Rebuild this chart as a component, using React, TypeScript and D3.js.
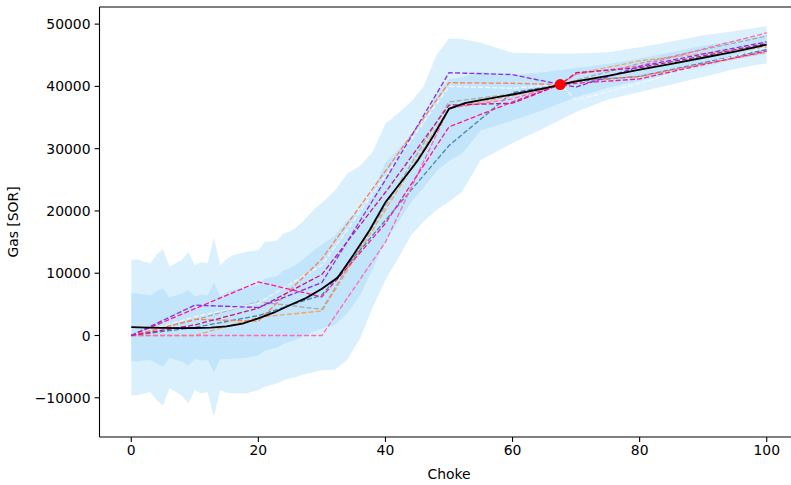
import * as d3 from 'd3';

const bandX = [0, 1, 2, 3, 4, 5, 6, 7, 8, 9, 10, 11, 12, 13, 14, 15, 16, 18, 20, 21, 22, 23, 24, 25, 26, 27, 28, 29, 30, 32, 34, 36, 38, 40, 42, 44, 46, 48, 50, 52, 55, 60, 65, 70, 75, 80, 85, 90, 95, 100];
const bandMid = [1310, 1310, 1300, 1250, 1300, 1300, 1270, 1275, 1250, 1250, 1245, 1250, 1270, 1315, 1250, 1550, 1810, 2050, 2450, 3375, 3575, 3820, 4600, 4900, 5375, 6000, 6670, 7350, 7865, 8850, 11050, 13350, 17000, 21450, 24050, 26750, 29150, 32550, 34600, 35300, 37600, 38150, 39300, 40600, 41700, 42700, 43750, 44850, 45850, 46700];
const bandStd = [5445, 5445, 5300, 5155, 5850, 6300, 4875, 5160, 5475, 6075, 5020, 5275, 5165, 7190, 5025, 5375, 5545, 5675, 5625, 5810, 5760, 5740, 5900, 5900, 6010, 6150, 6365, 6575, 6718, 7175, 7475, 6925, 6250, 6275, 5825, 5375, 5425, 6225, 6550, 6150, 4700, 3625, 3000, 2350, 1900, 1800, 1725, 1675, 1525, 1500];

// Mean curve (black)
const meanX = [0, 2.5, 5, 7.5, 10, 12.5, 15, 17.5, 20, 22.5, 25, 27.5, 30, 32.5, 35, 37.5, 40, 42.5, 45, 47.5, 50, 52.5, 55, 60, 65, 67.5, 70, 75, 80, 85, 90, 95, 100];
const meanY = [1330, 1270, 1220, 1190, 1200, 1260, 1450, 1900, 2750, 3700, 4900, 6000, 7500, 9300, 13000, 16900, 21400, 24700, 28000, 32000, 36400, 37300, 37800, 38700, 39700, 40300, 40800, 41700, 42700, 43600, 44600, 45600, 46700];

// Realisations (dashed)
const lineX = [0, 10, 20, 30, 40, 50, 60, 67.5, 70, 80, 90, 100];
const realisations = [
  { color: '#F4A460', values: [0, 0, 2900, 3950, 20200, 36500, 38500, 40300, 42000, 44100, 45300, 46300] },
  { color: '#A9A9A9', values: [0, 2500, 5400, 4200, 20800, 37500, 38800, 40300, 41000, 43700, 45900, 48100] },
  { color: '#4682B4', values: [0, 1300, 3200, 6500, 18500, 30500, 39000, 40300, 40800, 41600, 43800, 45900] },
  { color: '#FF69B4', values: [0, 0, 0, 0, 15000, 36500, 38000, 40300, 42000, 43300, 46000, 48600] },
  { color: '#F0F8FF', values: [0, 3000, 5200, 11300, 25600, 40000, 39700, 40300, 37800, 40500, 43500, 46300] },
  { color: '#FF7F50', values: [0, 2600, 2300, 12300, 26400, 40600, 40500, 40300, 40900, 41600, 43600, 45500] },
  { color: '#C71585', values: [0, 1700, 4400, 9800, 23000, 37000, 37300, 40300, 42200, 43000, 44900, 46900] },
  { color: '#FF1493', values: [0, 4300, 8600, 6200, 18000, 33500, 37500, 40300, 40500, 41200, 43500, 45700] },
  { color: '#8A2BE2', values: [0, 4870, 4500, 8500, 25000, 42200, 41900, 40300, 39900, 43200, 45200, 47150] },
];

const observed = { x: 67.5, y: 40300 };

const xTicks = [0, 20, 40, 60, 80, 100];
const yTicks = [-10000, 0, 10000, 20000, 30000, 40000, 50000];

const W = 791;
const H = 485;
const left = 99.5;
const right = 798.5;
const top = 7;
const bottom = 437;
const font = 'DejaVu Sans, sans-serif';

export default function App() {
  const x = d3.scaleLinear().domain([-5, 105]).range([left, right]);
  const y = d3.scaleLinear().domain([-16300, 52750]).range([bottom, top]);

  const idx = d3.range(bandX.length);
  const band = (k: number) =>
    d3.area<number>()
      .x((i) => x(bandX[i]))
      .y0((i) => y(bandMid[i] - k * bandStd[i]))
      .y1((i) => y(bandMid[i] + k * bandStd[i]))(idx) || '';

  const dashed = d3.line<number>()
    .x((d, i) => x(lineX[i]))
    .y((d) => y(d));

  const meanLine = d3.line<number>()
    .x((d, i) => x(meanX[i]))
    .y((d) => y(d))(meanY) || '';

  const fmt = (v: number) => (v < 0 ? '\u2212' + Math.abs(v) : String(v));

  return (
    <svg
      width={W}
      height={H}
      style={{ position: 'absolute', left: 0, top: 0, background: '#fff' }}
      fontFamily={font}
    >
      <defs>
        <clipPath id="plot">
          <rect x={left} y={top} width={right - left} height={bottom - top} />
        </clipPath>
      </defs>
      <g clipPath="url(#plot)">
        <path d={band(2)} fill="#87CEFA" fillOpacity={0.3} />
        <path d={band(1)} fill="#87CEFA" fillOpacity={0.3} />
        {realisations.map((r, i) => (
          <path
            key={i}
            d={dashed(r.values) || ''}
            fill="none"
            stroke={r.color}
            strokeWidth={1.3}
            strokeDasharray="5,2.2"
          />
        ))}
        <path d={meanLine} fill="none" stroke="#000" strokeWidth={1.8} />
        <circle cx={x(observed.x)} cy={y(observed.y)} r={5.5} fill="#FF0000" />
      </g>

      {/* spines */}
      <line x1={left} x2={left} y1={top} y2={bottom} stroke="#000" strokeWidth={1.1} />
      <line x1={left} x2={right} y1={bottom} y2={bottom} stroke="#000" strokeWidth={1.1} />
      <line x1={left} x2={right} y1={top} y2={top} stroke="#000" strokeWidth={1.1} />
      <line x1={right} x2={right} y1={top} y2={bottom} stroke="#000" strokeWidth={1.1} />

      {xTicks.map((t) => (
        <g key={t} transform={`translate(${x(t)},${bottom})`}>
          <line y2={4.9} stroke="#000" strokeWidth={1.1} />
          <text y={18} textAnchor="middle" fontSize={13.9} fill="#000">{t}</text>
        </g>
      ))}
      {yTicks.map((t) => (
        <g key={t} transform={`translate(${left},${y(t)})`}>
          <line x2={-4.9} stroke="#000" strokeWidth={1.1} />
          <text x={-9} dy="0.36em" textAnchor="end" fontSize={13.9} fill="#000">{fmt(t)}</text>
        </g>
      ))}

      <text x={x(50)} y={479} textAnchor="middle" fontSize={13.9} fill="#000">Choke</text>
      <text
        transform={`translate(18,${(top + bottom) / 2}) rotate(-90)`}
        textAnchor="middle"
        fontSize={13.9}
        fill="#000"
      >
        Gas [SOR]
      </text>
    </svg>
  );
}
